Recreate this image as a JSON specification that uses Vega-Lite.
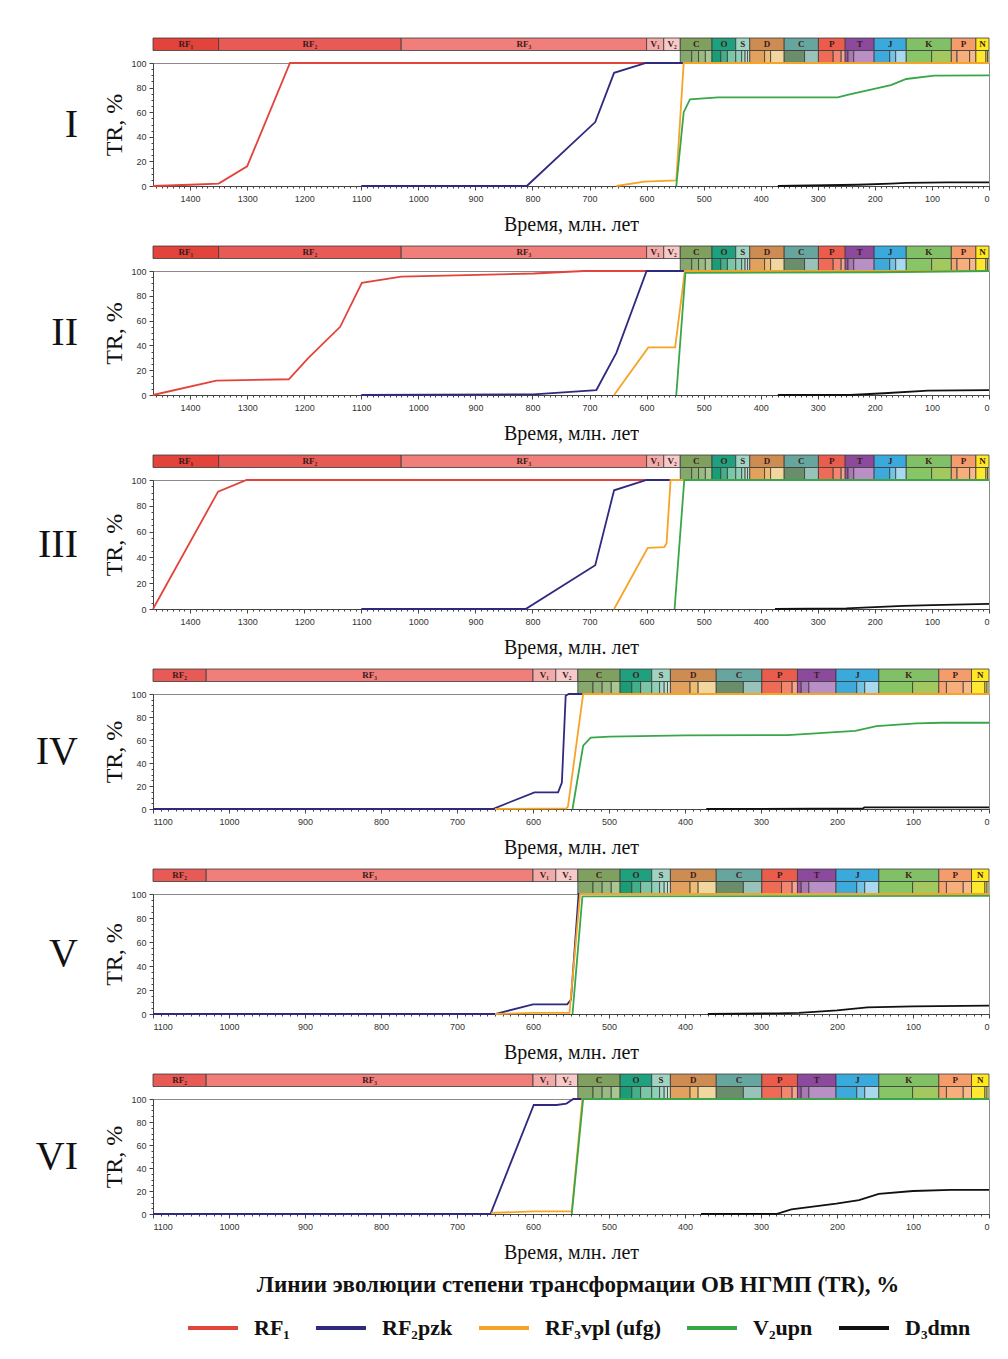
{
"$schema":"https://vega.github.io/schema/vega-lite/v6.json",
"background":"white",
"padding":{"left":35,"top":37,"right":10,"bottom":10},
"spacing":10,
"config":{
 "view":{"stroke":null},
 "axis":{"labelFont":"Liberation Sans","labelFontSize":9,"labelColor":"#333333","tickColor":"#444444","domainColor":"#444444","tickSize":4,"labelPadding":3,"grid":false,"titleFont":"Liberation Serif","titleFontWeight":"normal","titleColor":"#111111"},
 "axisX":{"titleFontSize":20,"titlePadding":11,"labelPadding":4,"format":"d"},
 "axisY":{"titleFontSize":24,"titlePadding":4},
 "title":{"font":"Liberation Serif","fontWeight":"normal","fontSize":40,"color":"#111111"}
},
"datasets":{
"gts":[
{"set":"A","level":"period","unit":"RF₁","label":"RF₁","start":1465,"end":1350},
{"set":"A","level":"period","unit":"RF₂","label":"RF₂","start":1350,"end":1030},
{"set":"B","level":"period","unit":"RF₂","label":"RF₂","start":1100,"end":1030},
{"set":"all","level":"period","unit":"RF₃","label":"RF₃","start":1030,"end":600},
{"set":"all","level":"period","unit":"V₁","label":"V₁","start":600,"end":570},
{"set":"all","level":"period","unit":"V₂","label":"V₂","start":570,"end":541},
{"set":"all","level":"period","unit":"Cm","label":"C","start":541,"end":485.4},
{"set":"all","level":"period","unit":"O","label":"O","start":485.4,"end":443.8},
{"set":"all","level":"period","unit":"S","label":"S","start":443.8,"end":419.2},
{"set":"all","level":"period","unit":"D","label":"D","start":419.2,"end":358.9},
{"set":"all","level":"period","unit":"Cb","label":"C","start":358.9,"end":298.9},
{"set":"all","level":"period","unit":"Pm","label":"P","start":298.9,"end":252},
{"set":"all","level":"period","unit":"T","label":"T","start":252,"end":201.3},
{"set":"all","level":"period","unit":"J","label":"J","start":201.3,"end":145},
{"set":"all","level":"period","unit":"K","label":"K","start":145,"end":66},
{"set":"all","level":"period","unit":"Pg","label":"P","start":66,"end":23},
{"set":"all","level":"period","unit":"N","label":"N","start":23,"end":0},
{"set":"all","level":"epoch","unit":"Cm1","label":"","start":541,"end":521},
{"set":"all","level":"epoch","unit":"Cm2","label":"","start":521,"end":509},
{"set":"all","level":"epoch","unit":"Cm3","label":"","start":509,"end":497},
{"set":"all","level":"epoch","unit":"Cm4","label":"","start":497,"end":485.4},
{"set":"all","level":"epoch","unit":"O1","label":"","start":485.4,"end":470},
{"set":"all","level":"epoch","unit":"O2","label":"","start":470,"end":458.4},
{"set":"all","level":"epoch","unit":"O3","label":"","start":458.4,"end":443.8},
{"set":"all","level":"epoch","unit":"S1","label":"","start":443.8,"end":433.4},
{"set":"all","level":"epoch","unit":"S2","label":"","start":433.4,"end":427.4},
{"set":"all","level":"epoch","unit":"S3","label":"","start":427.4,"end":423},
{"set":"all","level":"epoch","unit":"S4","label":"","start":423,"end":419.2},
{"set":"all","level":"epoch","unit":"D1","label":"","start":419.2,"end":393.3},
{"set":"all","level":"epoch","unit":"D2","label":"","start":393.3,"end":382.7},
{"set":"all","level":"epoch","unit":"D3","label":"","start":382.7,"end":358.9},
{"set":"all","level":"epoch","unit":"Cb1","label":"","start":358.9,"end":323.2},
{"set":"all","level":"epoch","unit":"Cb2","label":"","start":323.2,"end":298.9},
{"set":"all","level":"epoch","unit":"Pm1","label":"","start":298.9,"end":273},
{"set":"all","level":"epoch","unit":"Pm2","label":"","start":273,"end":259},
{"set":"all","level":"epoch","unit":"Pm3","label":"","start":259,"end":252},
{"set":"all","level":"epoch","unit":"T1","label":"","start":252,"end":247},
{"set":"all","level":"epoch","unit":"T2","label":"","start":247,"end":237},
{"set":"all","level":"epoch","unit":"T3","label":"","start":237,"end":201.3},
{"set":"all","level":"epoch","unit":"J1","label":"","start":201.3,"end":174},
{"set":"all","level":"epoch","unit":"J2","label":"","start":174,"end":163.5},
{"set":"all","level":"epoch","unit":"J3","label":"","start":163.5,"end":145},
{"set":"all","level":"epoch","unit":"K1","label":"","start":145,"end":100.5},
{"set":"all","level":"epoch","unit":"K2","label":"","start":100.5,"end":66},
{"set":"all","level":"epoch","unit":"Pg1","label":"","start":66,"end":56},
{"set":"all","level":"epoch","unit":"Pg2","label":"","start":56,"end":33.9},
{"set":"all","level":"epoch","unit":"Pg3","label":"","start":33.9,"end":23},
{"set":"all","level":"epoch","unit":"N1","label":"","start":23,"end":5.3},
{"set":"all","level":"epoch","unit":"N2","label":"","start":5.3,"end":2.6},
{"set":"all","level":"epoch","unit":"Q","label":"","start":2.6,"end":0}
],
"lines":[
{"p":"I","s":"RF₁","t":1465,"v":0},{"p":"I","s":"RF₁","t":1400,"v":1},{"p":"I","s":"RF₁","t":1350,"v":2},{"p":"I","s":"RF₁","t":1300,"v":16},{"p":"I","s":"RF₁","t":1225,"v":100},{"p":"I","s":"RF₁","t":0,"v":100},
{"p":"I","s":"RF₂pzk","t":1100,"v":0},{"p":"I","s":"RF₂pzk","t":810,"v":0},{"p":"I","s":"RF₂pzk","t":690,"v":52},{"p":"I","s":"RF₂pzk","t":657,"v":92},{"p":"I","s":"RF₂pzk","t":601,"v":100},{"p":"I","s":"RF₂pzk","t":0,"v":100},
{"p":"I","s":"RF₃vpl (ufg)","t":653,"v":0},{"p":"I","s":"RF₃vpl (ufg)","t":604,"v":3.5},{"p":"I","s":"RF₃vpl (ufg)","t":548,"v":4.5},{"p":"I","s":"RF₃vpl (ufg)","t":535,"v":100},{"p":"I","s":"RF₃vpl (ufg)","t":0,"v":100},
{"p":"I","s":"V₂upn","t":548,"v":0},{"p":"I","s":"V₂upn","t":535,"v":60},{"p":"I","s":"V₂upn","t":524,"v":70.5},{"p":"I","s":"V₂upn","t":475,"v":72},{"p":"I","s":"V₂upn","t":265,"v":72},{"p":"I","s":"V₂upn","t":248,"v":74},{"p":"I","s":"V₂upn","t":172,"v":82},{"p":"I","s":"V₂upn","t":145,"v":87},{"p":"I","s":"V₂upn","t":96,"v":89.7},{"p":"I","s":"V₂upn","t":0,"v":90},
{"p":"I","s":"D₃dmn","t":370,"v":0},{"p":"I","s":"D₃dmn","t":230,"v":1},{"p":"I","s":"D₃dmn","t":172,"v":2},{"p":"I","s":"D₃dmn","t":145,"v":2.5},{"p":"I","s":"D₃dmn","t":72,"v":3},{"p":"I","s":"D₃dmn","t":0,"v":3},

{"p":"II","s":"RF₁","t":1465,"v":0},{"p":"II","s":"RF₁","t":1354,"v":11.6},{"p":"II","s":"RF₁","t":1227,"v":12.7},{"p":"II","s":"RF₁","t":1193,"v":29.7},{"p":"II","s":"RF₁","t":1137,"v":55},{"p":"II","s":"RF₁","t":1099,"v":90.5},{"p":"II","s":"RF₁","t":1030,"v":95.4},{"p":"II","s":"RF₁","t":798,"v":98},{"p":"II","s":"RF₁","t":710,"v":100},{"p":"II","s":"RF₁","t":0,"v":100},
{"p":"II","s":"RF₂pzk","t":1100,"v":0},{"p":"II","s":"RF₂pzk","t":798,"v":0.5},{"p":"II","s":"RF₂pzk","t":688,"v":4},{"p":"II","s":"RF₂pzk","t":653,"v":34},{"p":"II","s":"RF₂pzk","t":600,"v":100},{"p":"II","s":"RF₂pzk","t":0,"v":100},
{"p":"II","s":"RF₃vpl (ufg)","t":657,"v":0},{"p":"II","s":"RF₃vpl (ufg)","t":597,"v":38.4},{"p":"II","s":"RF₃vpl (ufg)","t":550,"v":38.4},{"p":"II","s":"RF₃vpl (ufg)","t":533,"v":100},{"p":"II","s":"RF₃vpl (ufg)","t":0,"v":100},
{"p":"II","s":"V₂upn","t":548,"v":0},{"p":"II","s":"V₂upn","t":532,"v":98.5},{"p":"II","s":"V₂upn","t":190,"v":99},{"p":"II","s":"V₂upn","t":0,"v":100},
{"p":"II","s":"D₃dmn","t":370,"v":0},{"p":"II","s":"D₃dmn","t":243,"v":0},{"p":"II","s":"D₃dmn","t":184,"v":1.4},{"p":"II","s":"D₃dmn","t":107,"v":3.5},{"p":"II","s":"D₃dmn","t":0,"v":4},

{"p":"III","s":"RF₁","t":1465,"v":0},{"p":"III","s":"RF₁","t":1351,"v":91},{"p":"III","s":"RF₁","t":1301,"v":100},{"p":"III","s":"RF₁","t":0,"v":100},
{"p":"III","s":"RF₂pzk","t":1100,"v":0},{"p":"III","s":"RF₂pzk","t":812,"v":0},{"p":"III","s":"RF₂pzk","t":690,"v":34},{"p":"III","s":"RF₂pzk","t":657,"v":92},{"p":"III","s":"RF₂pzk","t":600,"v":100},{"p":"III","s":"RF₂pzk","t":0,"v":100},
{"p":"III","s":"RF₃vpl (ufg)","t":657,"v":0},{"p":"III","s":"RF₃vpl (ufg)","t":598,"v":47.4},{"p":"III","s":"RF₃vpl (ufg)","t":569,"v":48},{"p":"III","s":"RF₃vpl (ufg)","t":565,"v":51},{"p":"III","s":"RF₃vpl (ufg)","t":558,"v":100},{"p":"III","s":"RF₃vpl (ufg)","t":0,"v":100},
{"p":"III","s":"V₂upn","t":551,"v":0},{"p":"III","s":"V₂upn","t":534,"v":100},{"p":"III","s":"V₂upn","t":0,"v":100},
{"p":"III","s":"D₃dmn","t":375,"v":0},{"p":"III","s":"D₃dmn","t":250,"v":0.5},{"p":"III","s":"D₃dmn","t":200,"v":1.5},{"p":"III","s":"D₃dmn","t":150,"v":2.5},{"p":"III","s":"D₃dmn","t":100,"v":3},{"p":"III","s":"D₃dmn","t":0,"v":4},

{"p":"IV","s":"RF₂pzk","t":1100,"v":0},{"p":"IV","s":"RF₂pzk","t":653,"v":0},{"p":"IV","s":"RF₂pzk","t":598,"v":14.5},{"p":"IV","s":"RF₂pzk","t":567,"v":14.5},{"p":"IV","s":"RF₂pzk","t":562,"v":23},{"p":"IV","s":"RF₂pzk","t":557,"v":98.5},{"p":"IV","s":"RF₂pzk","t":553,"v":100},{"p":"IV","s":"RF₂pzk","t":0,"v":100},
{"p":"IV","s":"RF₃vpl (ufg)","t":650,"v":0},{"p":"IV","s":"RF₃vpl (ufg)","t":556,"v":0.5},{"p":"IV","s":"RF₃vpl (ufg)","t":554,"v":2},{"p":"IV","s":"RF₃vpl (ufg)","t":534,"v":100},{"p":"IV","s":"RF₃vpl (ufg)","t":0,"v":100},
{"p":"IV","s":"V₂upn","t":548,"v":0},{"p":"IV","s":"V₂upn","t":534,"v":55},{"p":"IV","s":"V₂upn","t":524,"v":62},{"p":"IV","s":"V₂upn","t":499,"v":63},{"p":"IV","s":"V₂upn","t":400,"v":64},{"p":"IV","s":"V₂upn","t":265,"v":64.3},{"p":"IV","s":"V₂upn","t":176,"v":68},{"p":"IV","s":"V₂upn","t":148,"v":72},{"p":"IV","s":"V₂upn","t":96,"v":74.5},{"p":"IV","s":"V₂upn","t":63,"v":75},{"p":"IV","s":"V₂upn","t":0,"v":75},
{"p":"IV","s":"D₃dmn","t":372,"v":0},{"p":"IV","s":"D₃dmn","t":166,"v":0.5},{"p":"IV","s":"D₃dmn","t":164,"v":1.4},{"p":"IV","s":"D₃dmn","t":0,"v":1.5},

{"p":"V","s":"RF₂pzk","t":1100,"v":0},{"p":"V","s":"RF₂pzk","t":650,"v":0},{"p":"V","s":"RF₂pzk","t":600,"v":8},{"p":"V","s":"RF₂pzk","t":555,"v":8},{"p":"V","s":"RF₂pzk","t":550,"v":12},{"p":"V","s":"RF₂pzk","t":540,"v":100},{"p":"V","s":"RF₂pzk","t":0,"v":100},
{"p":"V","s":"RF₃vpl (ufg)","t":650,"v":0},{"p":"V","s":"RF₃vpl (ufg)","t":600,"v":1},{"p":"V","s":"RF₃vpl (ufg)","t":552,"v":1},{"p":"V","s":"RF₃vpl (ufg)","t":538,"v":100},{"p":"V","s":"RF₃vpl (ufg)","t":0,"v":100},
{"p":"V","s":"V₂upn","t":548,"v":0},{"p":"V","s":"V₂upn","t":535,"v":98},{"p":"V","s":"V₂upn","t":0,"v":98.5},
{"p":"V","s":"D₃dmn","t":370,"v":0},{"p":"V","s":"D₃dmn","t":280,"v":0.5},{"p":"V","s":"D₃dmn","t":250,"v":1},{"p":"V","s":"D₃dmn","t":200,"v":3},{"p":"V","s":"D₃dmn","t":160,"v":5.5},{"p":"V","s":"D₃dmn","t":100,"v":6.3},{"p":"V","s":"D₃dmn","t":0,"v":7},

{"p":"VI","s":"RF₂pzk","t":1100,"v":0},{"p":"VI","s":"RF₂pzk","t":656,"v":0},{"p":"VI","s":"RF₂pzk","t":599,"v":94.8},{"p":"VI","s":"RF₂pzk","t":569,"v":94.8},{"p":"VI","s":"RF₂pzk","t":556,"v":96},{"p":"VI","s":"RF₂pzk","t":547,"v":100},{"p":"VI","s":"RF₂pzk","t":0,"v":100},
{"p":"VI","s":"RF₃vpl (ufg)","t":655,"v":0.9},{"p":"VI","s":"RF₃vpl (ufg)","t":598,"v":2.3},{"p":"VI","s":"RF₃vpl (ufg)","t":549,"v":2.3},{"p":"VI","s":"RF₃vpl (ufg)","t":535,"v":100},{"p":"VI","s":"RF₃vpl (ufg)","t":0,"v":100},
{"p":"VI","s":"V₂upn","t":549,"v":0},{"p":"VI","s":"V₂upn","t":534,"v":100},{"p":"VI","s":"V₂upn","t":0,"v":100},
{"p":"VI","s":"D₃dmn","t":379,"v":0},{"p":"VI","s":"D₃dmn","t":280,"v":0},{"p":"VI","s":"D₃dmn","t":260,"v":4},{"p":"VI","s":"D₃dmn","t":201,"v":9},{"p":"VI","s":"D₃dmn","t":171,"v":12},{"p":"VI","s":"D₃dmn","t":145,"v":17.5},{"p":"VI","s":"D₃dmn","t":100,"v":20},{"p":"VI","s":"D₃dmn","t":50,"v":21},{"p":"VI","s":"D₃dmn","t":0,"v":21}
]
},
"vconcat":[
{"spacing":0,"bounds":"flush","vconcat":[
 {"width":836,"height":25,"data":{"name":"gts"},"transform":[{"filter":"datum.set != 'B'"}],
  "layer":[
   {"mark":{"type":"rect","stroke":"#3a3a3a","strokeWidth":0.8},
    "encoding":{"x":{"field":"start","type":"quantitative","scale":{"domain":[1465,0],"nice":false,"zero":false},"axis":null},"x2":{"field":"end"},
     "y":{"field":"level","type":"nominal","scale":{"domain":["period","epoch"],"paddingInner":0,"paddingOuter":0},"axis":null},
     "fill":{"field":"unit","type":"nominal","legend":null,"scale":{"domain":["RF₁","RF₂","RF₃","V₁","V₂","Cm","O","S","D","Cb","Pm","T","J","K","Pg","N","Cm1","Cm2","Cm3","Cm4","O1","O2","O3","S1","S2","S3","S4","D1","D2","D3","Cb1","Cb2","Pm1","Pm2","Pm3","T1","T2","T3","J1","J2","J3","K1","K2","Pg1","Pg2","Pg3","N1","N2","Q"],"range":["#e2433b","#e85a56","#f07e7b","#f3aba9","#f7c9c8","#7fa05e","#1fa07e","#9fd3c2","#cd8c52","#67a59f","#ea5c4b","#8c4a9c","#3aaadc","#82c068","#f59d6a","#ffe820","#86a86c","#90b178","#9aba83","#a9c791","#1a9d77","#44b08a","#7ac6a6","#8fcfb8","#a6d9c6","#b6e0d0","#cbe9dc","#e2a15e","#eebc72","#f1d79f","#6a8e6c","#98c2ba","#ee6b57","#f4866f","#f6a38f","#9a53a2","#ab78b6","#b990c6","#3eaadc","#72c3e6","#a8d9ef","#88c566","#a3c860","#f4a371","#f6ae7d","#f7b98a","#ffe930","#fff06a","#fff57e"]}}}},
   {"transform":[{"filter":"datum.label != ''"},{"fold":["start","end"],"as":["k","t"]}],
    "mark":{"type":"text","font":"Liberation Serif","fontWeight":"bold","fontSize":9,"fill":"#3d1a1a"},
    "encoding":{"x":{"aggregate":"mean","field":"t","type":"quantitative"},"y":{"field":"level","type":"nominal"},"detail":{"field":"unit"},"text":{"field":"label"}}}
  ]},
 {"width":836,"height":123,"data":{"name":"lines"},"transform":[{"filter":"datum.p == 'I'"}],
  "view":{"stroke":"#8a8a8a"},
  "title":{"text":"I","orient":"left","angle":0,"align":"left","baseline":"middle","offset":25,"anchor":"middle"},
  "layer":[
   {"mark":{"type":"line","strokeWidth":1.8},
    "encoding":{"x":{"field":"t","type":"quantitative","scale":{"domain":[1465,0],"nice":false,"zero":false},"axis":{"orient":"bottom","values":[1400,1300,1200,1100,1000,900,800,700,600,500,400,300,200,100,0],"title":"Время, млн. лет"}},
     "y":{"field":"v","type":"quantitative","scale":{"domain":[0,100],"nice":false},"axis":{"orient":"left","values":[0,20,40,60,80,100],"title":"TR, %"}},
     "color":{"field":"s","type":"nominal","scale":{"domain":["RF₁","RF₂pzk","RF₃vpl (ufg)","V₂upn","D₃dmn"],"range":["#e2433a","#2f2a80","#f5a427","#3aa64a","#111111"]},
      "legend":{"title":"Линии эволюции степени трансформации ОВ НГМП (TR), %","orient":"none","legendX":33,"legendY":1236,"direction":"horizontal","symbolType":"stroke","symbolSize":2500,"symbolStrokeWidth":4,"labelFont":"Liberation Serif","labelFontSize":22,"labelFontWeight":"bold","labelColor":"#111111","labelOffset":14,"columnPadding":18,"titleFont":"Liberation Serif","titleFontSize":23,"titleFontWeight":"bold","titleColor":"#111111","titleAnchor":"middle","titlePadding":4,"titleLimit":1000,"labelLimit":400}}}},
   {"mark":{"type":"line","strokeOpacity":0},
    "encoding":{"x":{"field":"t","type":"quantitative","axis":{"orient":"bottom","tickCount":146,"labels":false,"domain":false,"tickSize":2,"title":null}},
     "y":{"field":"v","type":"quantitative","axis":{"orient":"left","tickCount":20,"labels":false,"domain":false,"tickSize":2,"title":null}},
     "detail":{"field":"s"}}}
  ],
  "resolve":{"axis":{"x":"independent","y":"independent"}}}
]},
{"spacing":0,"bounds":"flush","vconcat":[
 {"width":836,"height":25,"data":{"name":"gts"},"transform":[{"filter":"datum.set != 'B'"}],
  "layer":[
   {"mark":{"type":"rect","stroke":"#3a3a3a","strokeWidth":0.8},
    "encoding":{"x":{"field":"start","type":"quantitative","scale":{"domain":[1465,0],"nice":false,"zero":false},"axis":null},"x2":{"field":"end"},
     "y":{"field":"level","type":"nominal","scale":{"domain":["period","epoch"],"paddingInner":0,"paddingOuter":0},"axis":null},
     "fill":{"field":"unit","type":"nominal","legend":null}}},
   {"transform":[{"filter":"datum.label != ''"},{"fold":["start","end"],"as":["k","t"]}],
    "mark":{"type":"text","font":"Liberation Serif","fontWeight":"bold","fontSize":9,"fill":"#3d1a1a"},
    "encoding":{"x":{"aggregate":"mean","field":"t","type":"quantitative"},"y":{"field":"level","type":"nominal"},"detail":{"field":"unit"},"text":{"field":"label"}}}
  ]},
 {"width":836,"height":124,"data":{"name":"lines"},"transform":[{"filter":"datum.p == 'II'"}],
  "view":{"stroke":"#8a8a8a"},
  "title":{"text":"II","orient":"left","angle":0,"align":"left","baseline":"middle","offset":25,"anchor":"middle"},
  "layer":[
   {"mark":{"type":"line","strokeWidth":1.8},
    "encoding":{"x":{"field":"t","type":"quantitative","scale":{"domain":[1465,0],"nice":false,"zero":false},"axis":{"orient":"bottom","values":[1400,1300,1200,1100,1000,900,800,700,600,500,400,300,200,100,0],"title":"Время, млн. лет"}},
     "y":{"field":"v","type":"quantitative","scale":{"domain":[0,100],"nice":false},"axis":{"orient":"left","values":[0,20,40,60,80,100],"title":"TR, %"}},
     "color":{"field":"s","type":"nominal"}}},
   {"mark":{"type":"line","strokeOpacity":0},
    "encoding":{"x":{"field":"t","type":"quantitative","axis":{"orient":"bottom","tickCount":146,"labels":false,"domain":false,"tickSize":2,"title":null}},
     "y":{"field":"v","type":"quantitative","axis":{"orient":"left","tickCount":20,"labels":false,"domain":false,"tickSize":2,"title":null}},
     "detail":{"field":"s"}}}
  ],
  "resolve":{"axis":{"x":"independent","y":"independent"}}}
]},
{"spacing":0,"bounds":"flush","vconcat":[
 {"width":836,"height":25,"data":{"name":"gts"},"transform":[{"filter":"datum.set != 'B'"}],
  "layer":[
   {"mark":{"type":"rect","stroke":"#3a3a3a","strokeWidth":0.8},
    "encoding":{"x":{"field":"start","type":"quantitative","scale":{"domain":[1465,0],"nice":false,"zero":false},"axis":null},"x2":{"field":"end"},
     "y":{"field":"level","type":"nominal","scale":{"domain":["period","epoch"],"paddingInner":0,"paddingOuter":0},"axis":null},
     "fill":{"field":"unit","type":"nominal","legend":null}}},
   {"transform":[{"filter":"datum.label != ''"},{"fold":["start","end"],"as":["k","t"]}],
    "mark":{"type":"text","font":"Liberation Serif","fontWeight":"bold","fontSize":9,"fill":"#3d1a1a"},
    "encoding":{"x":{"aggregate":"mean","field":"t","type":"quantitative"},"y":{"field":"level","type":"nominal"},"detail":{"field":"unit"},"text":{"field":"label"}}}
  ]},
 {"width":836,"height":129,"data":{"name":"lines"},"transform":[{"filter":"datum.p == 'III'"}],
  "view":{"stroke":"#8a8a8a"},
  "title":{"text":"III","orient":"left","angle":0,"align":"left","baseline":"middle","offset":25,"anchor":"middle"},
  "layer":[
   {"mark":{"type":"line","strokeWidth":1.8},
    "encoding":{"x":{"field":"t","type":"quantitative","scale":{"domain":[1465,0],"nice":false,"zero":false},"axis":{"orient":"bottom","values":[1400,1300,1200,1100,1000,900,800,700,600,500,400,300,200,100,0],"title":"Время, млн. лет"}},
     "y":{"field":"v","type":"quantitative","scale":{"domain":[0,100],"nice":false},"axis":{"orient":"left","values":[0,20,40,60,80,100],"title":"TR, %"}},
     "color":{"field":"s","type":"nominal"}}},
   {"mark":{"type":"line","strokeOpacity":0},
    "encoding":{"x":{"field":"t","type":"quantitative","axis":{"orient":"bottom","tickCount":146,"labels":false,"domain":false,"tickSize":2,"title":null}},
     "y":{"field":"v","type":"quantitative","axis":{"orient":"left","tickCount":20,"labels":false,"domain":false,"tickSize":2,"title":null}},
     "detail":{"field":"s"}}}
  ],
  "resolve":{"axis":{"x":"independent","y":"independent"}}}
]},
{"spacing":0,"bounds":"flush","vconcat":[
 {"width":836,"height":25,"data":{"name":"gts"},"transform":[{"filter":"datum.set != 'A'"}],
  "layer":[
   {"mark":{"type":"rect","stroke":"#3a3a3a","strokeWidth":0.8},
    "encoding":{"x":{"field":"start","type":"quantitative","scale":{"domain":[1100,0],"nice":false,"zero":false},"axis":null},"x2":{"field":"end"},
     "y":{"field":"level","type":"nominal","scale":{"domain":["period","epoch"],"paddingInner":0,"paddingOuter":0},"axis":null},
     "fill":{"field":"unit","type":"nominal","legend":null}}},
   {"transform":[{"filter":"datum.label != ''"},{"fold":["start","end"],"as":["k","t"]}],
    "mark":{"type":"text","font":"Liberation Serif","fontWeight":"bold","fontSize":9,"fill":"#3d1a1a"},
    "encoding":{"x":{"aggregate":"mean","field":"t","type":"quantitative"},"y":{"field":"level","type":"nominal"},"detail":{"field":"unit"},"text":{"field":"label"}}}
  ]},
 {"width":836,"height":115,"data":{"name":"lines"},"transform":[{"filter":"datum.p == 'IV'"}],
  "view":{"stroke":"#8a8a8a"},
  "title":{"text":"IV","orient":"left","angle":0,"align":"left","baseline":"middle","offset":25,"anchor":"middle"},
  "layer":[
   {"mark":{"type":"line","strokeWidth":1.8},
    "encoding":{"x":{"field":"t","type":"quantitative","scale":{"domain":[1100,0],"nice":false,"zero":false},"axis":{"orient":"bottom","values":[1100,1000,900,800,700,600,500,400,300,200,100,0],"title":"Время, млн. лет"}},
     "y":{"field":"v","type":"quantitative","scale":{"domain":[0,100],"nice":false},"axis":{"orient":"left","values":[0,20,40,60,80,100],"title":"TR, %"}},
     "color":{"field":"s","type":"nominal"}}},
   {"mark":{"type":"line","strokeOpacity":0},
    "encoding":{"x":{"field":"t","type":"quantitative","axis":{"orient":"bottom","tickCount":110,"labels":false,"domain":false,"tickSize":2,"title":null}},
     "y":{"field":"v","type":"quantitative","axis":{"orient":"left","tickCount":20,"labels":false,"domain":false,"tickSize":2,"title":null}},
     "detail":{"field":"s"}}}
  ],
  "resolve":{"axis":{"x":"independent","y":"independent"}}}
]},
{"spacing":0,"bounds":"flush","vconcat":[
 {"width":836,"height":25,"data":{"name":"gts"},"transform":[{"filter":"datum.set != 'A'"}],
  "layer":[
   {"mark":{"type":"rect","stroke":"#3a3a3a","strokeWidth":0.8},
    "encoding":{"x":{"field":"start","type":"quantitative","scale":{"domain":[1100,0],"nice":false,"zero":false},"axis":null},"x2":{"field":"end"},
     "y":{"field":"level","type":"nominal","scale":{"domain":["period","epoch"],"paddingInner":0,"paddingOuter":0},"axis":null},
     "fill":{"field":"unit","type":"nominal","legend":null}}},
   {"transform":[{"filter":"datum.label != ''"},{"fold":["start","end"],"as":["k","t"]}],
    "mark":{"type":"text","font":"Liberation Serif","fontWeight":"bold","fontSize":9,"fill":"#3d1a1a"},
    "encoding":{"x":{"aggregate":"mean","field":"t","type":"quantitative"},"y":{"field":"level","type":"nominal"},"detail":{"field":"unit"},"text":{"field":"label"}}}
  ]},
 {"width":836,"height":120,"data":{"name":"lines"},"transform":[{"filter":"datum.p == 'V'"}],
  "view":{"stroke":"#8a8a8a"},
  "title":{"text":"V","orient":"left","angle":0,"align":"left","baseline":"middle","offset":25,"anchor":"middle"},
  "layer":[
   {"mark":{"type":"line","strokeWidth":1.8},
    "encoding":{"x":{"field":"t","type":"quantitative","scale":{"domain":[1100,0],"nice":false,"zero":false},"axis":{"orient":"bottom","values":[1100,1000,900,800,700,600,500,400,300,200,100,0],"title":"Время, млн. лет"}},
     "y":{"field":"v","type":"quantitative","scale":{"domain":[0,100],"nice":false},"axis":{"orient":"left","values":[0,20,40,60,80,100],"title":"TR, %"}},
     "color":{"field":"s","type":"nominal"}}},
   {"mark":{"type":"line","strokeOpacity":0},
    "encoding":{"x":{"field":"t","type":"quantitative","axis":{"orient":"bottom","tickCount":110,"labels":false,"domain":false,"tickSize":2,"title":null}},
     "y":{"field":"v","type":"quantitative","axis":{"orient":"left","tickCount":20,"labels":false,"domain":false,"tickSize":2,"title":null}},
     "detail":{"field":"s"}}}
  ],
  "resolve":{"axis":{"x":"independent","y":"independent"}}}
]},
{"spacing":0,"bounds":"flush","vconcat":[
 {"width":836,"height":25,"data":{"name":"gts"},"transform":[{"filter":"datum.set != 'A'"}],
  "layer":[
   {"mark":{"type":"rect","stroke":"#3a3a3a","strokeWidth":0.8},
    "encoding":{"x":{"field":"start","type":"quantitative","scale":{"domain":[1100,0],"nice":false,"zero":false},"axis":null},"x2":{"field":"end"},
     "y":{"field":"level","type":"nominal","scale":{"domain":["period","epoch"],"paddingInner":0,"paddingOuter":0},"axis":null},
     "fill":{"field":"unit","type":"nominal","legend":null}}},
   {"transform":[{"filter":"datum.label != ''"},{"fold":["start","end"],"as":["k","t"]}],
    "mark":{"type":"text","font":"Liberation Serif","fontWeight":"bold","fontSize":9,"fill":"#3d1a1a"},
    "encoding":{"x":{"aggregate":"mean","field":"t","type":"quantitative"},"y":{"field":"level","type":"nominal"},"detail":{"field":"unit"},"text":{"field":"label"}}}
  ]},
 {"width":836,"height":115,"data":{"name":"lines"},"transform":[{"filter":"datum.p == 'VI'"}],
  "view":{"stroke":"#8a8a8a"},
  "title":{"text":"VI","orient":"left","angle":0,"align":"left","baseline":"middle","offset":25,"anchor":"middle"},
  "layer":[
   {"mark":{"type":"line","strokeWidth":1.8},
    "encoding":{"x":{"field":"t","type":"quantitative","scale":{"domain":[1100,0],"nice":false,"zero":false},"axis":{"orient":"bottom","values":[1100,1000,900,800,700,600,500,400,300,200,100,0],"title":"Время, млн. лет"}},
     "y":{"field":"v","type":"quantitative","scale":{"domain":[0,100],"nice":false},"axis":{"orient":"left","values":[0,20,40,60,80,100],"title":"TR, %"}},
     "color":{"field":"s","type":"nominal"}}},
   {"mark":{"type":"line","strokeOpacity":0},
    "encoding":{"x":{"field":"t","type":"quantitative","axis":{"orient":"bottom","tickCount":110,"labels":false,"domain":false,"tickSize":2,"title":null}},
     "y":{"field":"v","type":"quantitative","axis":{"orient":"left","tickCount":20,"labels":false,"domain":false,"tickSize":2,"title":null}},
     "detail":{"field":"s"}}}
  ],
  "resolve":{"axis":{"x":"independent","y":"independent"}}}
]}
]
}
